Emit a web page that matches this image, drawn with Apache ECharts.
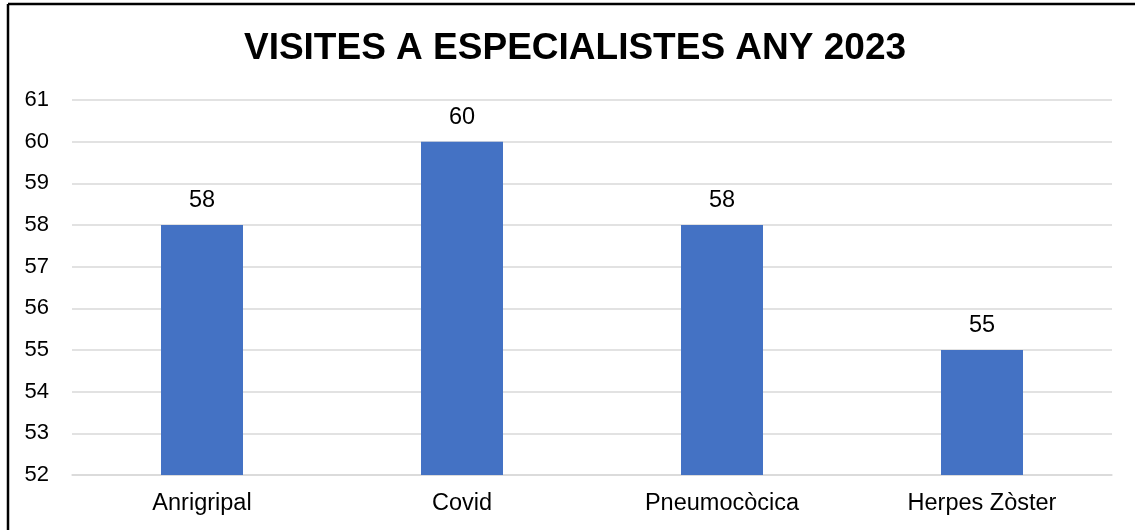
<!DOCTYPE html>
<html><head><meta charset="utf-8">
<script src="https://cdn.jsdelivr.net/npm/echarts@6/dist/echarts.min.js"></script>
<style>html,body{margin:0;padding:0;background:#fff}#c{width:1135px;height:530px}</style>
</head><body><div id="c"></div>
<script>
var categories = ['Anrigripal', 'Covid', 'Pneumocòcica', 'Herpes Zòster'];
var values = [58, 60, 58, 55];
var titleText = 'VISITES A ESPECIALISTES ANY 2023';
var yMin = 52, yMax = 61, yStep = 1;

var chart = echarts.init(document.getElementById('c'), null, {renderer: 'canvas'});
chart.setOption({
  animation: false,
  title: {
    text: titleText, left: 570, textAlign: 'center', top: 25,
    textStyle: {fontFamily: 'Liberation Sans, Arial', fontWeight: 'bold', fontSize: 37, color: '#000'}
  },
  graphic: [
    {type: 'line', shape: {x1: 8, y1: 4, x2: 1135, y2: 4}, style: {stroke: '#000', lineWidth: 2.5}},
    {type: 'line', shape: {x1: 8, y1: 4, x2: 8, y2: 530}, style: {stroke: '#000', lineWidth: 2.5}}
  ],
  grid: {left: 72, right: 23, top: 100, bottom: 55, containLabel: false},
  xAxis: {
    type: 'category', data: categories,
    axisLine: {show: true, lineStyle: {color: '#d9d9d9', width: 1.5}},
    axisTick: {show: false},
    axisLabel: {fontFamily: 'Liberation Sans, Arial', fontSize: 23.5, color: '#000', margin: 17}
  },
  yAxis: {
    type: 'value', min: yMin, max: yMax, interval: yStep,
    axisLine: {show: false}, axisTick: {show: false},
    splitLine: {lineStyle: {color: '#d9d9d9', width: 1.5}},
    axisLabel: {fontFamily: 'Liberation Sans, Arial', fontSize: 22, color: '#000', margin: 23, align: 'right'}
  },
  series: [{
    type: 'bar', data: values, barWidth: 82,
    itemStyle: {color: '#4472c4'},
    label: {show: true, position: 'top', distance: 12, fontFamily: 'Liberation Sans, Arial', fontSize: 23.5, color: '#000'}
  }]
});
</script></body></html>
